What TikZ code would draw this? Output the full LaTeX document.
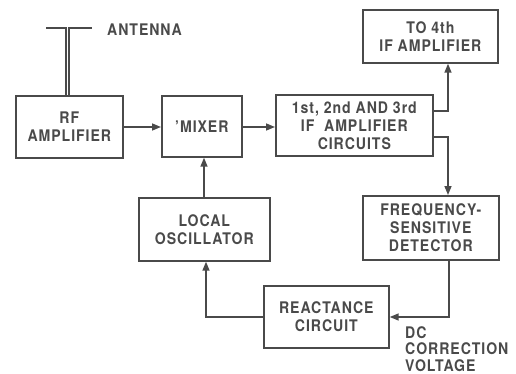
\documentclass[tikz,border=0pt]{standalone}
\usepackage{fontspec}
\setmainfont{TeX Gyre Heros}[LetterSpace=6,FakeStretch=0.88]
\usetikzlibrary{arrows.meta}
\definecolor{ink}{HTML}{4A4A4A}
\tikzset{
  blk/.style={draw=ink, line width=1.7pt, inner sep=0pt, anchor=north west, text=ink, font=\bfseries\fontsize{16}{18}\selectfont, align=center},
  conn/.style={draw=ink, line width=1.5pt, -{Triangle[length=9pt,width=7pt]}},
  lbl/.style={text=ink, font=\bfseries\fontsize{16}{16.5}\selectfont, inner sep=0pt}
}
\begin{document}
\begin{tikzpicture}[x=1pt,y=-1pt]
\useasboundingbox (0,0) rectangle (516,374);
\node[blk, minimum width=107pt, minimum height=62pt] (rf) at (15,95) {RF\\AMPLIFIER};
\node[blk, minimum width=80pt, minimum height=61pt] (mix) at (161,95) {'MIXER};
\node[blk, minimum width=157pt, minimum height=61pt] (ifa) at (275,94) {1st, 2nd AND 3rd\\IF\ \ AMPLIFIER\\CIRCUITS};
\node[blk, minimum width=135pt, minimum height=53pt] (four) at (362,9) {TO 4th\\IF AMPLIFIER};
\node[blk, minimum width=136pt, minimum height=64pt] (fsd) at (362,195) {FREQUENCY-\\SENSITIVE\\DETECTOR};
\node[blk, minimum width=131pt, minimum height=63pt] (lo) at (138,197) {LOCAL\\OSCILLATOR};
\node[blk, minimum width=125pt, minimum height=62pt] (rc) at (263,285) {REACTANCE\\CIRCUIT};
% antenna
\coordinate (a1) at (66,95);
\coordinate (a2) at (69,95);
\coordinate (t1) at (66,28);
\coordinate (t2) at (69,28);
\draw[ink, line width=1.3pt] (a1) -- (t1) -- (46,28);
\draw[ink, line width=1.3pt] (a2) -- (t2) -- (92,28);
\node[lbl, anchor=west] (ant) at (107,30) {ANTENNA};
% connectors
\draw[conn] (rf.east |- 0,127) -- (mix.west |- 0,127);
\draw[conn] (mix.east |- 0,127) -- (ifa.west |- 0,127);
\draw[conn] (ifa.east |- 0,111) -| (448,0 |- four.south);
\draw[conn] (ifa.east |- 0,137) -| (448,0 |- fsd.north);
\draw[conn] (449,0 |- fsd.south) |- (rc.east |- 0,317);
\draw[conn] (rc.west |- 0,317) -| (206,0 |- lo.south);
\draw[conn] (204,0 |- lo.north) -- (204,0 |- mix.south);
\node[lbl, anchor=north west, align=left] (dc) at (405,326) {DC\\CORRECTION\\VOLTAGE};
\end{tikzpicture}
\end{document}
